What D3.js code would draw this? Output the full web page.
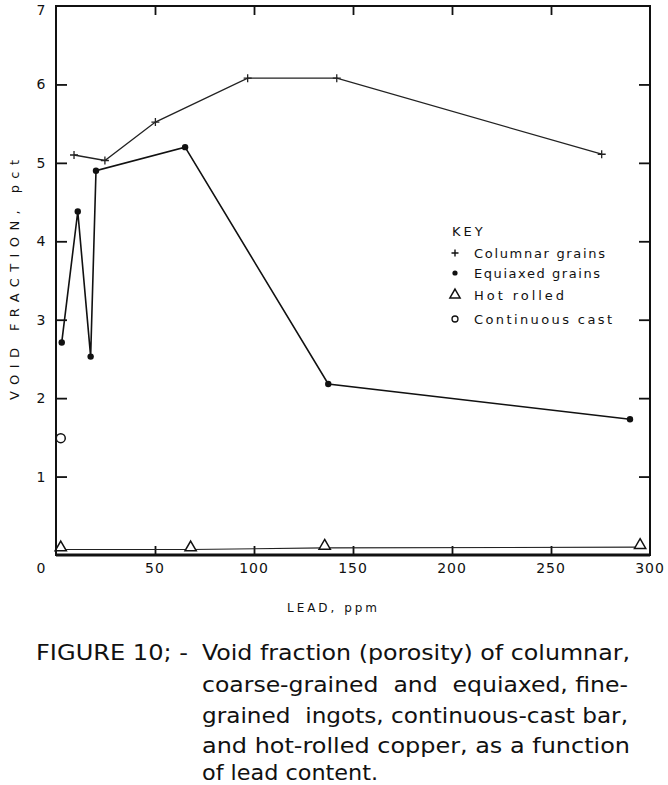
<!DOCTYPE html>
<html>
<head>
<meta charset="utf-8">
<script src="https://cdn.jsdelivr.net/npm/d3@7"></script>
<style>
  html, body { margin: 0; padding: 0; background: #fff; }
  svg { display: block; }
  text { fill: #111; }
</style>
</head>
<body>
<script>
// ---- data ----
const columnarLead = [9.1, 24.7, 50.2, 96.8, 141.8, 275.6];
const columnarVoid = [5.10, 5.03, 5.52, 6.08, 6.08, 5.11];

const equiaxedLead = [2.9, 11.0, 17.5, 20.2, 65.2, 137.5, 289.9];
const equiaxedVoid = [2.71, 4.38, 2.53, 4.90, 5.20, 2.18, 1.73];

const hotRolledLead = [2.4, 68, 135.7, 295];
const hotRolledVoid = [0.07, 0.07, 0.09, 0.10];

const contCastLead = [2.4];
const contCastVoid = [1.49];

const xTicks = [0, 50, 100, 150, 200, 250, 300];
const yTicks = [0, 1, 2, 3, 4, 5, 6, 7];

const legendLabels = ["Columnar grains", "Equiaxed grains", "Hot rolled", "Continuous cast"];
const captionHead = "FIGURE 10; -";
const captionLines = [
  "Void fraction (porosity) of columnar,",
  "coarse-grained  and  equiaxed, fine-",
  "grained  ingots, continuous-cast bar,",
  "and hot-rolled copper, as a function",
  "of lead content."
];

// ---- layout ----
const W = 668, H = 785;
const svg = d3.select("body").append("svg").attr("width", W).attr("height", H);

const x = d3.scaleLinear().domain([0, 300]).range([56, 650]);
const y = d3.scaleLinear().domain([0, 7]).range([555, 6]);

const font = "'DejaVu Sans', sans-serif";

// frame
svg.append("rect")
  .attr("x", x(0)).attr("y", y(7))
  .attr("width", x(300) - x(0)).attr("height", y(0) - y(7))
  .attr("fill", "none").attr("stroke", "#111").attr("stroke-width", 2);
svg.append("line")
  .attr("x1", x(0)).attr("x2", x(300)).attr("y1", y(0)).attr("y2", y(0))
  .attr("stroke", "#111").attr("stroke-width", 3);

// axes (ticks inward, all four sides)
const bottomAxis = d3.axisBottom(x).tickValues(xTicks.slice(1, -1)).tickSize(-9).tickFormat("");
const topAxis = d3.axisTop(x).tickValues(xTicks.slice(1, -1)).tickSize(-9).tickFormat("");
const leftAxis = d3.axisLeft(y).tickValues(yTicks.slice(1, -1)).tickSize(-11).tickFormat("");
const rightAxis = d3.axisRight(y).tickValues(yTicks.slice(1, -1)).tickSize(-11).tickFormat("");

function styleAxis(g) {
  g.select(".domain").remove();
  g.selectAll(".tick line").attr("stroke", "#111").attr("stroke-width", 1.8);
}
svg.append("g").attr("transform", `translate(0,${y(0)})`).call(bottomAxis).call(styleAxis);
svg.append("g").attr("transform", `translate(0,${y(7)})`).call(topAxis).call(styleAxis);
svg.append("g").attr("transform", `translate(${x(0)},0)`).call(leftAxis).call(styleAxis);
svg.append("g").attr("transform", `translate(${x(300)},0)`).call(rightAxis).call(styleAxis);

// tick labels
svg.append("g").selectAll("text").data(xTicks.slice(1)).join("text")
  .attr("x", d => x(d)).attr("y", 573)
  .attr("text-anchor", "middle")
  .attr("font-family", font).attr("font-size", 14).attr("letter-spacing", 1)
  .text(d => d);
svg.append("g").selectAll("text").data(yTicks).join("text")
  .attr("x", 41).attr("y", d => d === 0 ? 573 : (d === 7 ? y(d) + 9 : y(d) + 5))
  .attr("text-anchor", "middle")
  .attr("font-family", font).attr("font-size", 14)
  .text(d => d);

// axis titles
svg.append("text")
  .attr("transform", `translate(19,280) rotate(-90)`)
  .attr("text-anchor", "middle")
  .attr("font-family", font).attr("font-size", 13)
  .attr("textLength", 240).attr("lengthAdjust", "spacing")
  .text("VOID FRACTION, pct");
svg.append("text")
  .attr("x", 332).attr("y", 612)
  .attr("text-anchor", "middle")
  .attr("font-family", font).attr("font-size", 12)
  .attr("textLength", 90).attr("lengthAdjust", "spacing")
  .text("LEAD, ppm");

// series lines
const line = d3.line().x(d => x(d[0])).y(d => y(d[1]));
const colData = d3.zip(columnarLead, columnarVoid);
const eqData = d3.zip(equiaxedLead, equiaxedVoid);
const hrData = d3.zip(hotRolledLead, hotRolledVoid);
const ccData = d3.zip(contCastLead, contCastVoid);

svg.append("path").datum(hrData).attr("d", line)
  .attr("fill", "none").attr("stroke", "#222").attr("stroke-width", 1.2);
svg.append("path").datum(colData).attr("d", line)
  .attr("fill", "none").attr("stroke", "#222").attr("stroke-width", 1.3);
svg.append("path").datum(eqData).attr("d", line)
  .attr("fill", "none").attr("stroke", "#111").attr("stroke-width", 1.6);

// markers
function plusPath(s) {
  return `M${-s},0H${s}M0,${-s}V${s}`;
}
svg.append("g").selectAll("path").data(colData).join("path")
  .attr("transform", d => `translate(${x(d[0])},${y(d[1])})`)
  .attr("d", plusPath(4)).attr("stroke", "#222").attr("stroke-width", 1.3).attr("fill", "none");
svg.append("g").selectAll("circle").data(eqData).join("circle")
  .attr("cx", d => x(d[0])).attr("cy", d => y(d[1])).attr("r", 3.2).attr("fill", "#111");
const tri = d3.symbol().type(d3.symbolTriangle).size(55);
svg.append("g").selectAll("path").data(hrData).join("path")
  .attr("transform", d => `translate(${x(d[0])},${y(d[1]) - 2})`)
  .attr("d", tri).attr("fill", "#fff").attr("stroke", "#111").attr("stroke-width", 1.5);
svg.append("g").selectAll("circle").data(ccData).join("circle")
  .attr("cx", d => x(d[0])).attr("cy", d => y(d[1])).attr("r", 4.5)
  .attr("fill", "#fff").attr("stroke", "#111").attr("stroke-width", 1.5);
// redraw left frame edge over the open circle
svg.append("line").attr("x1", x(0)).attr("x2", x(0)).attr("y1", y(7)).attr("y2", y(0))
  .attr("stroke", "#111").attr("stroke-width", 2);

// legend
const lg = svg.append("g");
lg.append("text").attr("x", 452).attr("y", 236)
  .attr("font-family", font).attr("font-size", 13).attr("letter-spacing", 3)
  .text("KEY");
const rowsY = [253, 273, 295, 319];
lg.append("path").attr("transform", `translate(455,${rowsY[0]})`).attr("d", plusPath(3.5))
  .attr("stroke", "#111").attr("stroke-width", 1.4);
lg.append("circle").attr("cx", 455).attr("cy", rowsY[1]).attr("r", 2.6).attr("fill", "#111");
lg.append("path").attr("transform", `translate(455,${rowsY[2]})`).attr("d", d3.symbol().type(d3.symbolTriangle).size(45))
  .attr("fill", "#fff").attr("stroke", "#111").attr("stroke-width", 1.5);
lg.append("circle").attr("cx", 455).attr("cy", rowsY[3]).attr("r", 3)
  .attr("fill", "#fff").attr("stroke", "#111").attr("stroke-width", 1.3);
const legendWidths = [131, 126, 90, 138];
lg.selectAll("text.item").data(legendLabels).join("text").attr("class", "item")
  .attr("x", 474).attr("y", (d, i) => rowsY[i] + 5)
  .attr("font-family", font).attr("font-size", 13)
  .attr("textLength", (d, i) => legendWidths[i]).attr("lengthAdjust", "spacing")
  .text(d => d);

// caption
const cfont = "'DejaVu Sans', sans-serif";
const capY = [660, 692, 723, 753, 780];
const capW = [428, 426, 426, 428, 176];
svg.append("text").attr("x", 36).attr("y", capY[0])
  .attr("font-family", cfont).attr("font-size", 21).attr("font-stretch", "condensed")
  .attr("textLength", 152).attr("lengthAdjust", "spacingAndGlyphs")
  .text(captionHead);
svg.append("g").selectAll("text").data(captionLines).join("text")
  .attr("x", 202).attr("y", (d, i) => capY[i])
  .attr("font-family", cfont).attr("font-size", 21).attr("font-stretch", "condensed")
  .attr("textLength", (d, i) => capW[i]).attr("lengthAdjust", "spacingAndGlyphs")
  .attr("xml:space", "preserve")
  .text(d => d);
</script>
</body>
</html>
